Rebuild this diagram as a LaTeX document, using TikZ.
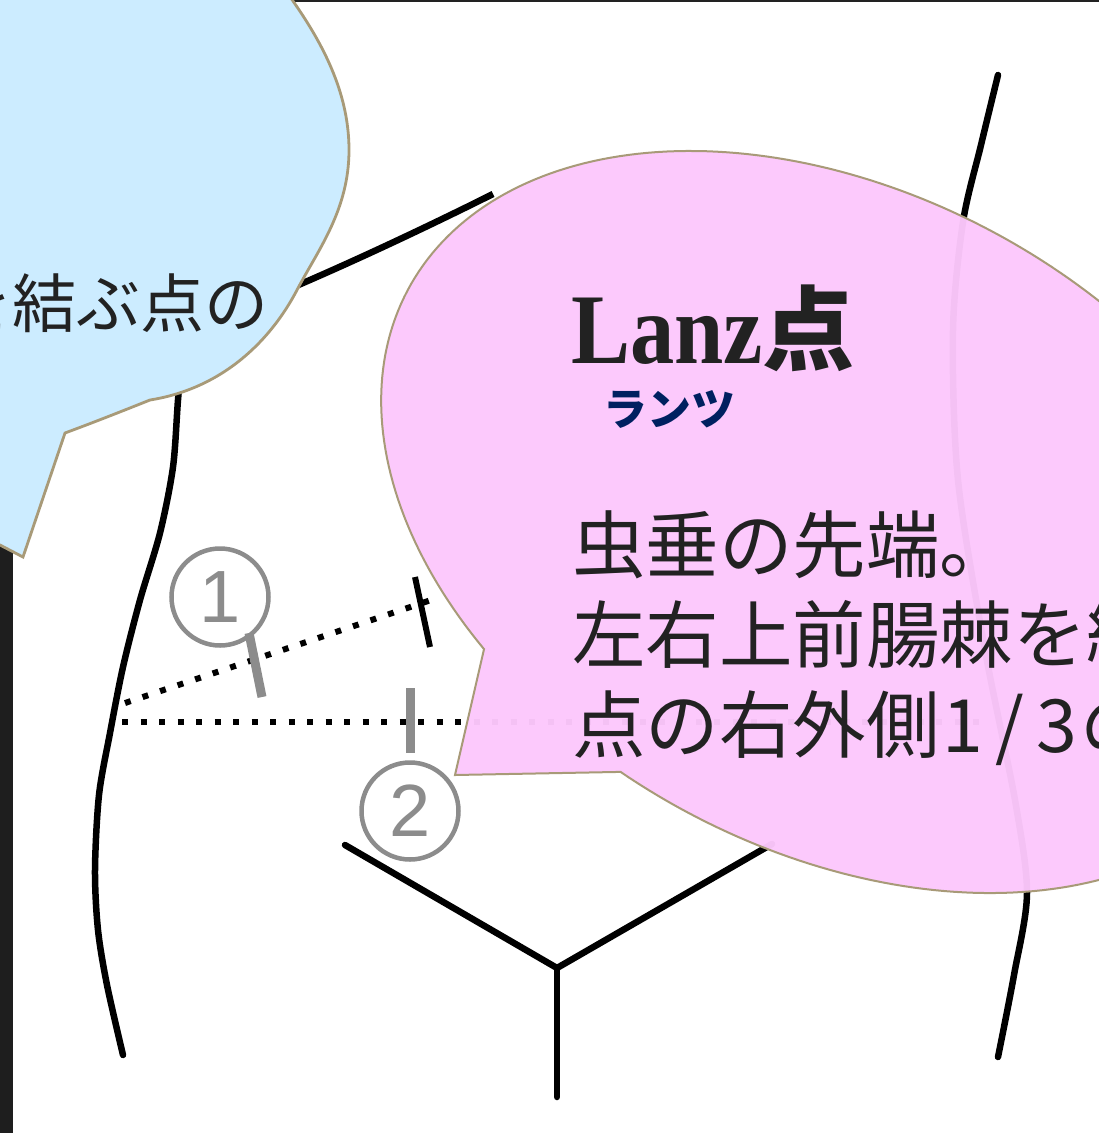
\documentclass[tikz,border=0pt]{standalone}
\usepackage{fontspec}
\newfontfamily\jpfont{Noto Sans CJK JP}
\newfontfamily\serifb{Liberation Serif}[FakeStretch=0.885]
\newfontfamily\numfont{Liberation Sans}
\definecolor{bubbleblue}{HTML}{CCECFF}
\definecolor{bubblepink}{HTML}{FCC8FC}
\definecolor{bubbleedge}{HTML}{A89A78}
\definecolor{navy}{HTML}{002060}
\definecolor{ink}{HTML}{222222}
\definecolor{strip}{HTML}{1E1E1E}
\definecolor{markgray}{HTML}{8C8C8C}
\tikzset{
  body/.style={line width=6.5pt, line cap=round, line join=round, black},
  dotline/.style={line width=6pt, dash pattern=on 6pt off 12.5pt, black},
  marktick/.style={line width=9pt, markgray},
  numcircle/.style={circle, draw=markgray, line width=4.5pt, minimum size=97pt,
    inner sep=0pt, text=markgray, font=\numfont\fontsize{74}{74}\selectfont},
  bodytext/.style={anchor=base west, inner sep=0pt, text=ink,
    font=\jpfont\fontsize{73.5}{73.5}\selectfont},
}
\begin{document}
\begin{tikzpicture}[x=1pt, y=-1pt]
\useasboundingbox (0,0) rectangle (1099,1133);
\clip (0,0) rectangle (1099,1133);
\fill[white] (0,0) rectangle (1099,1133);
% dark frame edge and top rule
\fill[strip] (0,0) rectangle (13,1133);
\fill[ink] (280,0) rectangle (1099,2.2);

% torso outline
\draw[body] plot[smooth] coordinates {(184,330) (178,400) (173,467) (160,533) (140,600) (123,667) (110,733) (99,795) (95,870) (98,930) (107,985) (123,1055)};
\draw[body, line cap=butt] (270,297) .. controls (340,268) and (425,228) .. (493,194);
\draw[body] plot[smooth] coordinates {(998,75) (981,145) (963,222) (953,330) (958,480) (985,650) (1015,800) (1027,893) (1014,975) (998,1057)};
% inguinal lines
\coordinate (vl) at (345,845);
\coordinate (vc) at (557,968);
\coordinate (vr) at (772,844);
\coordinate (vb) at (557,1097);
\draw[body] (vl) -- (vc) -- (vr);
\draw[body] (vc) -- (vb);

% reference lines
\coordinate (d1a) at (125,703);
\coordinate (d1b) at (437,598);
\coordinate (d2a) at (122,722);
\coordinate (d2b) at (990,722);
\draw[dotline] (d1a) -- (d1b);
\draw[dotline] (d2a) -- (d2b);
\draw[line width=6pt] (415,577) -- (430,647);
\draw[marktick] (249,633) -- (262,697);
\draw[marktick] (410,688) -- (410,753);
\node[numcircle] (c1) at (220,597) {1};
\node[numcircle] (c2) at (410,811) {2};

% blue callout
\path[fill=bubbleblue, draw=bubbleedge, line width=2.8pt]
  (262,-40) .. controls (310,20) and (349,80) .. (349,150)
  .. controls (349,210) and (318,250) .. (297,290)
  .. controls (272,338) and (225,388) .. (150,400)
  .. controls (120,412) and (92,423) .. (65,433)
  -- (23,557) -- (0,545) -- (-40,540) -- (-40,-40) -- cycle;
\node[anchor=base east, inner sep=0pt, text=ink, font=\jpfont\fontsize{64}{64}\selectfont] (bluetext) at (269,327) {を結ぶ点の};

% pink callout (rotated ellipse with a wedge)
\path[fill=bubblepink, fill opacity=0.97, draw=bubbleedge, line width=2pt]
  plot[domain=-239:98.7, samples=260, variable=\t]
    ({840 + 490.6*cos(\t)*0.8796 - 328*sin(\t)*0.4756},
     {522 + 490.6*cos(\t)*0.4756 + 328*sin(\t)*0.8796})
  -- (455,775) -- cycle;

\node[anchor=base west, inner sep=0pt, text=ink] (title) at (571,363)
  {{\serifb\bfseries\fontsize{100}{100}\selectfont Lanz}{\jpfont\bfseries\fontsize{92}{92}\selectfont 点}};
\node[anchor=base west, inner sep=0pt, text=navy, font=\jpfont\bfseries\fontsize{44}{44}\selectfont] (kana) at (603,425) {ランツ};
\node[bodytext] (l1) at (572,572) {虫垂の先端。};
\node[bodytext] (l2) at (572,662) {左右上前腸棘を結ぶ};
\node[bodytext] (l3) at (572,752) {点の右外側\makebox[47pt]{1}\makebox[47pt]{/}\makebox[47pt]{3}の点};
\end{tikzpicture}
\end{document}
